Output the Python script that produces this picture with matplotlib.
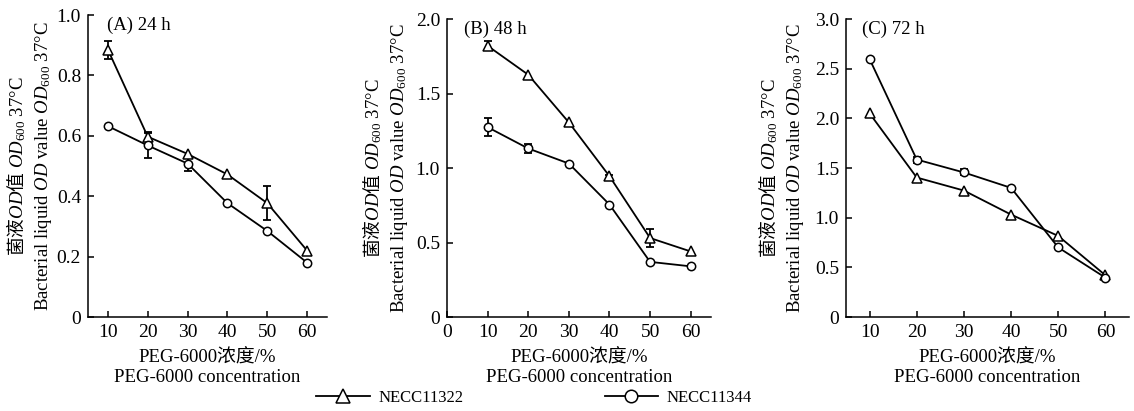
import numpy as np
import matplotlib
matplotlib.use('Agg')
from matplotlib import pyplot as plt
from matplotlib.lines import Line2D
from matplotlib.ticker import FuncFormatter

plt.rcParams['font.family'] = ['Liberation Serif', 'Noto Sans CJK SC']
plt.rcParams['mathtext.fontset'] = 'custom'
plt.rcParams['mathtext.rm'] = 'Noto Sans CJK SC'
plt.rcParams['mathtext.it'] = 'Liberation Serif:italic'
plt.rcParams['mathtext.bf'] = 'Liberation Serif:bold'
plt.rcParams['font.size'] = 13

# DATA
conc = [10, 20, 30, 40, 50, 60]
panel_titles = ['(A) 24 h', '(B) 48 h', '(C) 72 h']
strain_names = ['NECC11322', 'NECC11344']

od_11322 = [
    [0.885, 0.597, 0.540, 0.472, 0.377, 0.220],
    [1.820, 1.626, 1.306, 0.945, 0.530, 0.440],
    [2.050, 1.404, 1.273, 1.031, 0.816, 0.420],
]
err_11322 = [
    [0.030, 0.015, 0.0, 0.0, 0.057, 0.0],
    [0.030, 0.0, 0.0, 0.010, 0.060, 0.0],
    [0.0, 0.0, 0.0, 0.0, 0.0, 0.0],
]
od_11344 = [
    [0.632, 0.568, 0.508, 0.377, 0.285, 0.180],
    [1.274, 1.131, 1.030, 0.755, 0.370, 0.340],
    [2.597, 1.585, 1.455, 1.300, 0.700, 0.396],
]
err_11344 = [
    [0.0, 0.040, 0.025, 0.0, 0.0, 0.0],
    [0.060, 0.030, 0.0, 0.0, 0.0, 0.0],
    [0.0, 0.030, 0.030, 0.0, 0.0, 0.0],
]

y_max = [1.0, 2.0, 3.0]
y_step = [0.2, 0.5, 0.5]
x_ticks = [[10, 20, 30, 40, 50, 60], [0, 10, 20, 30, 40, 50, 60], [10, 20, 30, 40, 50, 60]]
x_min = [5, 0, 5]

ylabel = ('$\\mathrm{菌液}\\mathit{OD}\\mathrm{值}$ $\\mathit{OD}_{\\mathregular{600}}$ 37°C\n'
          'Bacterial liquid $\\mathit{OD}$ value $\\mathit{OD}_{\\mathregular{600}}$ 37°C')
xlabel = 'PEG-6000浓度/%\nPEG-6000 concentration'

W, H = 1134, 411
# axes boxes in pixels: left, top, right, bottom
boxes = [(88, 15, 327, 317), (447, 19, 711, 317), (846, 19, 1129, 317)]
title_x = [0.08, 0.065, 0.057]
ylab_right = [54, 410, 806]

fig = plt.figure(figsize=(W / 100, H / 100), dpi=100)

for i in range(3):
    l, t, r, b = boxes[i]
    ax = fig.add_axes([l / W, 1 - b / H, (r - l) / W, (b - t) / H])
    x = np.array(conc)

    for od, err, mk, ms in [(od_11322[i], err_11322[i], '^', 7),
                            (od_11344[i], err_11344[i], 'o', 6)]:
        od = np.array(od)
        err = np.array(err)
        m = err > 0
        ax.errorbar(x[m], od[m], yerr=err[m], fmt='none', ecolor='black',
                    elinewidth=1.3, capsize=3, capthick=1.3, zorder=2)
        ax.plot(x, od, color='black', lw=1.3, marker=mk, ms=ms,
                mfc='white', mec='black', mew=1.1, zorder=3)

    ax.set_xlim(x_min[i], 65)
    ax.set_ylim(0, y_max[i])
    ax.set_xticks(x_ticks[i])
    ax.set_yticks(np.arange(0, y_max[i] + 1e-9, y_step[i]))
    ax.yaxis.set_major_formatter(FuncFormatter(lambda v, p: '0' if v == 0 else f'{v:.1f}'))
    ax.tick_params(direction='in', length=4, width=1.1, labelsize=14, pad=5)
    for s in ['top', 'right']:
        ax.spines[s].set_visible(False)
    for s in ['left', 'bottom']:
        ax.spines[s].set_linewidth(1.1)

    ax.text(title_x[i], 0.995, panel_titles[i], transform=ax.transAxes,
            ha='left', va='top', fontsize=13.5)
    ax.set_ylabel(ylabel, fontsize=13.5, linespacing=1.3)
    ax.yaxis.set_label_coords((ylab_right[i] - l) / (r - l), 0.5)
    ax.set_xlabel(xlabel, fontsize=13.5, linespacing=1.2, labelpad=6)

handles = [Line2D([], [], color='black', lw=1.3, marker='^', ms=10,
                  mfc='white', mec='black', mew=1.1),
           Line2D([], [], color='black', lw=1.3, marker='o', ms=9,
                  mfc='white', mec='black', mew=1.1)]
fig.legend(handles, strain_names, loc='center', bbox_to_anchor=(0.471, 0.032),
           ncol=2, frameon=False, fontsize=12, handlelength=3.2,
           handletextpad=0.5, columnspacing=8.5)

fig.savefig('out.png', dpi=100)
